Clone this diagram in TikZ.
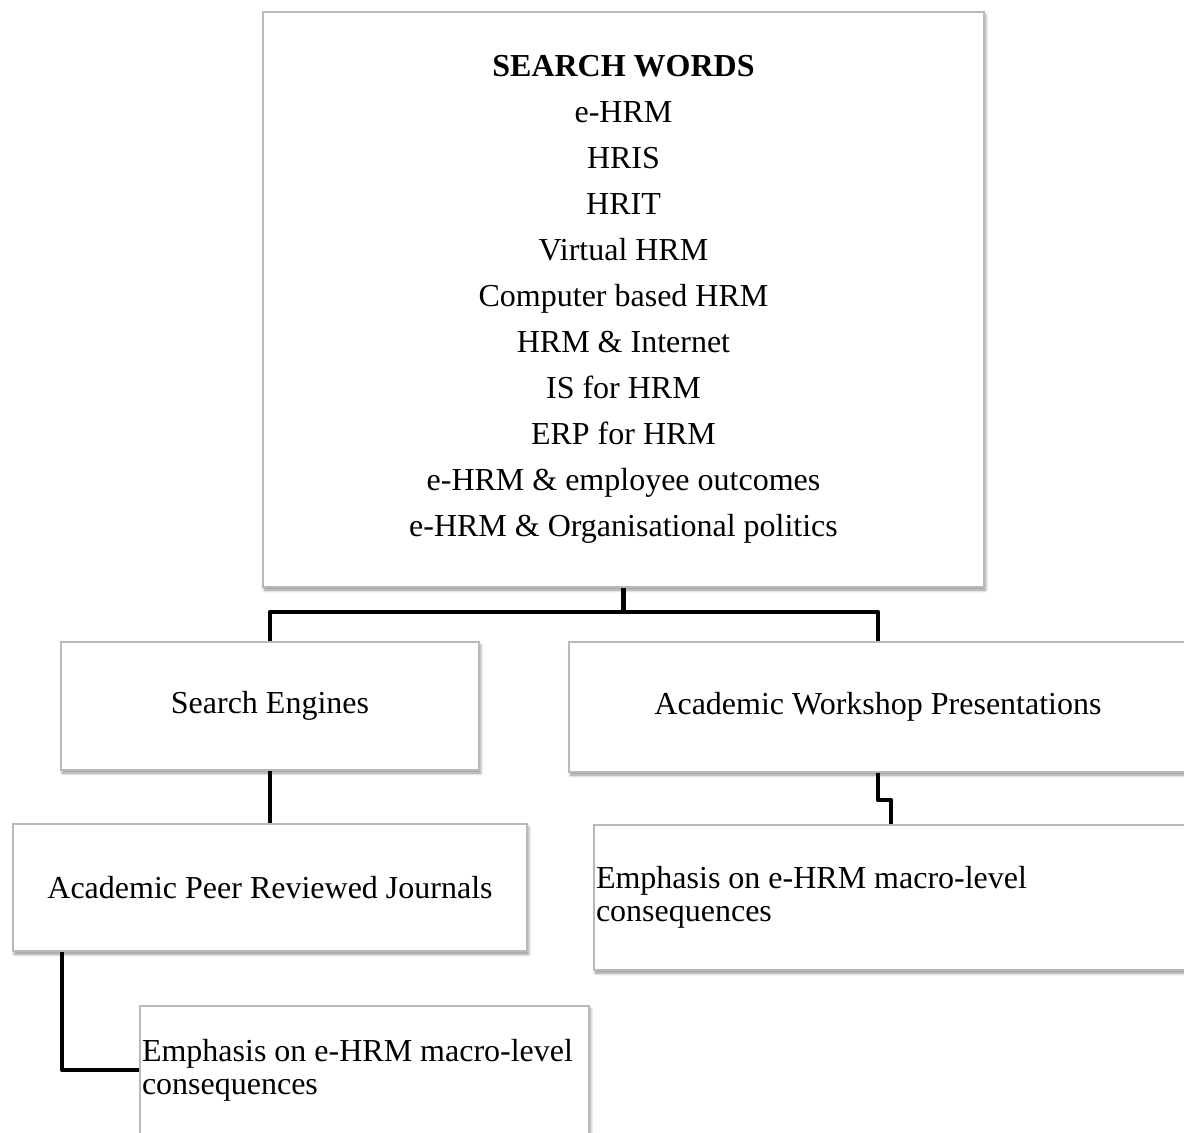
\documentclass[tikz,border=0pt]{standalone}
\usepackage{fontspec}
\setmainfont{Liberation Serif}
\usetikzlibrary{shadows.blur}
\begin{document}
\begin{tikzpicture}[x=1pt,y=1pt,
  box/.style={draw=gray!55, line width=2pt, fill=white, inner sep=0pt, anchor=north west,
    blur shadow={shadow xshift=1.5pt, shadow yshift=-3pt, shadow blur radius=3pt,
                 shadow blur steps=6, shadow opacity=45}},
  link/.style={line width=4.5pt, line join=round, draw=black},
  txt/.style={font=\fontsize{32}{33}\selectfont}]
\useasboundingbox (0,0) rectangle (1184,-1133);
\clip (0,0) rectangle (1184,-1133);

% keyword list
\node[box, minimum width=721, minimum height=575, align=center,
      font=\fontsize{32}{46}\selectfont] (top) at (262,-11)
  {\textbf{SEARCH WORDS}\\e-HRM\\HRIS\\HRIT\\Virtual HRM\\Computer based HRM\\
   HRM \& Internet\\IS for HRM\\ERP for HRM\\e-HRM \& employee outcomes\\
   e-HRM \& Organisational politics};

% sources
\node[box, txt, minimum width=418, minimum height=128] (se) at (60,-641) {Search Engines};
\node[box, txt, minimum width=618, minimum height=130] (aw) at (568,-641) {Academic Workshop Presentations};
\node[box, txt, minimum width=514, minimum height=127] (peer) at (12,-823) {Academic Peer Reviewed Journals};

% outcomes
\node[box, txt, minimum width=594, minimum height=145, text width=590, inner xsep=2pt, align=flush left] (er) at (593,-824)
  {Emphasis on e-HRM macro-level\\consequences};
\node[box, txt, minimum width=449, minimum height=128, text width=445, inner xsep=2pt, align=flush left] (eb) at (139,-1005)
  {Emphasis on e-HRM macro-level\\consequences};

% connectors
\coordinate (j) at (top.south |- 0,-612);
\draw[link] (top.south) -- (j);
\draw[link] (se.north) |- (j) -| (aw.north);
\draw[link] (se.south) -- (peer.north);
\draw[link] (aw.south) -- ++(0,-27) -| (er.north);
\draw[link] ([xshift=50pt]peer.south west) |- (eb.west);
\end{tikzpicture}
\end{document}
